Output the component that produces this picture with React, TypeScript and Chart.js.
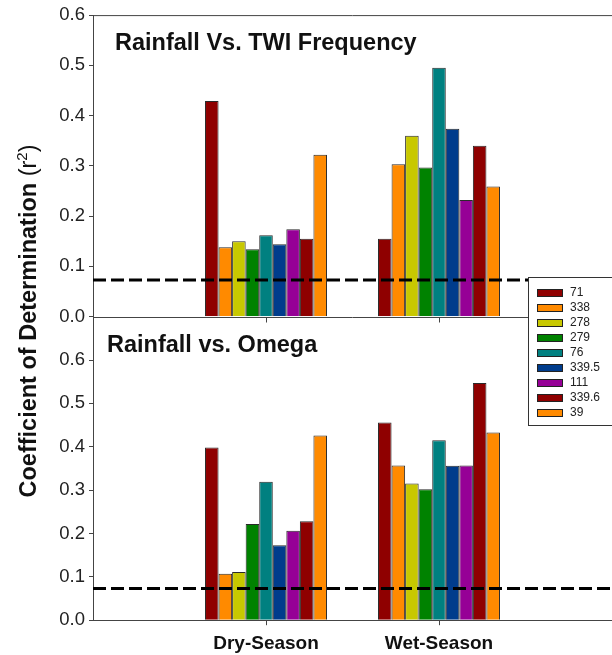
import React, { useEffect, useRef } from 'react';
import { Chart, registerables } from 'chart.js';

Chart.register(...registerables);

// ---- data ----
const categories = ['', 'Dry-Season', 'Wet-Season', ''];
const seriesNames = ['71', '338', '278', '279', '76', '339.5', '111', '339.6', '39'];
const seriesColors = ['#8F0000', '#FF8A00', '#C8C800', '#008200', '#008080', '#003C8C', '#960096', '#8F0000', '#FF8A00'];

const twiDry = [0.429, 0.138, 0.150, 0.134, 0.162, 0.144, 0.174, 0.155, 0.322];
const twiWet = [0.155, 0.303, 0.360, 0.297, 0.495, 0.374, 0.232, 0.340, 0.259];
const omegaDry = [0.398, 0.107, 0.111, 0.222, 0.319, 0.173, 0.206, 0.228, 0.426];
const omegaWet = [0.456, 0.357, 0.315, 0.302, 0.415, 0.356, 0.357, 0.547, 0.433];
const threshold = 0.073;

const topTitle = 'Rainfall Vs. TWI Frequency';
const bottomTitle = 'Rainfall vs. Omega';
const yTitleMain = 'Coefficient of Determination ';

const FONT = '"Liberation Sans", Arial, Helvetica, sans-serif';

export default function App() {
  const ref = useRef<HTMLCanvasElement>(null);

  useEffect(() => {
    document.body.style.margin = '0';
    const canvas = ref.current;
    if (!canvas) return;

    const datasets: any[] = [];
    seriesNames.forEach((name, i) => {
      datasets.push({
        label: name,
        data: [null, twiDry[i], twiWet[i], null],
        backgroundColor: seriesColors[i],
        borderColor: '#2a2a2a',
        borderWidth: 1,
        yAxisID: 'yTop',
        stack: 's' + i,
        categoryPercentage: 0.705,
        barPercentage: 1,
      });
    });
    seriesNames.forEach((name, i) => {
      datasets.push({
        label: name,
        data: [null, omegaDry[i], omegaWet[i], null],
        backgroundColor: seriesColors[i],
        borderColor: '#2a2a2a',
        borderWidth: 1,
        yAxisID: 'yBot',
        stack: 's' + i,
        categoryPercentage: 0.705,
        barPercentage: 1,
      });
    });

    const overlay = {
      id: 'overlay',
      afterDatasetsDraw(chart: any) {
        const ctx = chart.ctx;
        const { left, right } = chart.chartArea;
        ctx.save();
        ctx.strokeStyle = '#000';
        ctx.lineWidth = 3;
        ctx.setLineDash([13, 5]);
        ['yTop', 'yBot'].forEach((id) => {
          const y = chart.scales[id].getPixelForValue(threshold);
          ctx.beginPath();
          ctx.moveTo(left, y);
          ctx.lineTo(right, y);
          ctx.stroke();
        });
        ctx.restore();
      },
      afterDraw(chart: any) {
        const ctx = chart.ctx;
        const { left, right, top } = chart.chartArea;
        const yTop = chart.scales.yTop;
        const yBot = chart.scales.yBot;
        const x = chart.scales.x;
        ctx.save();
        // frame lines
        ctx.strokeStyle = '#444';
        ctx.lineWidth = 1;
        ctx.beginPath();
        ctx.moveTo(left, top + 0.5);
        ctx.lineTo(right, top + 0.5);
        const mid = Math.round(yTop.bottom) + 0.5;
        ctx.moveTo(left, mid);
        ctx.lineTo(right, mid);
        [1, 2].forEach((i) => {
          const px = Math.round(x.getPixelForValue(i)) + 0.5;
          ctx.moveTo(px, mid);
          ctx.lineTo(px, mid + 5);
        });
        ctx.stroke();

        // panel titles
        ctx.fillStyle = '#111';
        ctx.font = `bold 23.5px ${FONT}`;
        ctx.textBaseline = 'middle';
        ctx.textAlign = 'left';
        ctx.fillText(topTitle, left + 22, yTop.top + 28);
        ctx.fillText(bottomTitle, left + 14, yBot.top + 29);

        // y-axis title with superscript
        ctx.save();
        ctx.translate(28, 321);
        ctx.rotate(-Math.PI / 2);
        const boldF = `bold 23.5px ${FONT}`;
        const regF = `23.5px ${FONT}`;
        const supF = `15px ${FONT}`;
        ctx.font = boldF;
        const w1 = ctx.measureText(yTitleMain).width;
        ctx.font = regF;
        const w2 = ctx.measureText('(r').width;
        const w4 = ctx.measureText(')').width;
        ctx.font = supF;
        const w3 = ctx.measureText('2').width;
        let cx = -(w1 + w2 + w3 + w4) / 2;
        ctx.textAlign = 'left';
        ctx.textBaseline = 'alphabetic';
        const base = 8;
        ctx.fillStyle = '#111';
        ctx.font = boldF;
        ctx.fillText(yTitleMain, cx, base);
        cx += w1;
        ctx.font = regF;
        ctx.fillText('(r', cx, base);
        cx += w2;
        ctx.font = supF;
        ctx.fillText('2', cx, base - 9);
        cx += w3;
        ctx.font = regF;
        ctx.fillText(')', cx, base);
        ctx.restore();

        // legend
        const lx = 528.5, ly = 277.5, lw = 100, lh = 148;
        ctx.fillStyle = '#fff';
        ctx.fillRect(lx, ly, lw, lh);
        ctx.strokeStyle = '#333';
        ctx.lineWidth = 1;
        ctx.strokeRect(lx, ly, lw, lh);
        ctx.font = `12px ${FONT}`;
        ctx.textBaseline = 'middle';
        ctx.textAlign = 'left';
        seriesNames.forEach((name, i) => {
          const cy = 293 + 15 * i;
          ctx.fillStyle = seriesColors[i];
          ctx.fillRect(537, cy - 4, 26, 8);
          ctx.strokeStyle = '#222';
          ctx.strokeRect(537.5, cy - 3.5, 25, 7);
          ctx.fillStyle = '#222';
          ctx.fillText(name, 570, cy);
        });
        ctx.restore();
      },
    };

    const yTickFont = { family: FONT, size: 18.5 };

    const chart = new Chart(canvas, {
      type: 'bar',
      data: { labels: categories, datasets },
      options: {
        responsive: false,
        animation: false,
        events: [],
        layout: { padding: { left: 42, top: 14, right: 0, bottom: -7 } },
        plugins: {
          legend: { display: false },
          tooltip: { enabled: false },
          title: { display: false },
        },
        scales: {
          x: {
            type: 'category',
            offset: false,
            afterFit: (s: any) => { s.paddingRight = 0; s.paddingLeft = 0; },
            grid: {
              offset: false,
              drawOnChartArea: false,
              drawTicks: true,
              tickLength: 5,
              color: 'rgba(0,0,0,0)',
              tickColor: (c: any) => (c.index === 1 || c.index === 2 ? '#444' : 'rgba(0,0,0,0)'),
            },
            border: { display: true, color: '#444', width: 1 },
            ticks: {
              font: { family: FONT, size: 19, weight: 'bold' },
              color: '#111',
              padding: 7,
              autoSkip: false,
              maxRotation: 0,
            },
          },
          yBot: {
            type: 'linear',
            position: 'left',
            stack: 'panels',
            stackWeight: 304,
            stacked: false,
            min: 0,
            max: 0.7,
            afterFit: (s: any) => { s.width = 51; },
            ticks: {
              stepSize: 0.1,
              autoSkip: false,
              callback: (v: any) => (Math.abs(Number(v) - 0.7) < 1e-6 ? '' : Number(v).toFixed(1)),
              font: yTickFont,
              color: '#222',
              padding: 4,
            },
            grid: { drawOnChartArea: false, tickLength: 4, color: '#444' },
            border: { color: '#444' },
          },
          yTop: {
            type: 'linear',
            position: 'left',
            stack: 'panels',
            stackWeight: 302,
            stacked: false,
            min: 0,
            max: 0.6,
            afterFit: (s: any) => { s.width = 51; },
            ticks: {
              stepSize: 0.1,
              autoSkip: false,
              callback: (v: any) => Number(v).toFixed(1),
              font: yTickFont,
              color: '#222',
              padding: 4,
            },
            grid: { drawOnChartArea: false, tickLength: 4, color: '#444' },
            border: { color: '#444' },
          },
        },
      } as any,
      plugins: [overlay],
    });

    return () => chart.destroy();
  }, []);

  return (
    <div style={{ width: 612, height: 655, position: 'relative', background: '#fff' }}>
      <canvas ref={ref} width={612} height={655} />
    </div>
  );
}
